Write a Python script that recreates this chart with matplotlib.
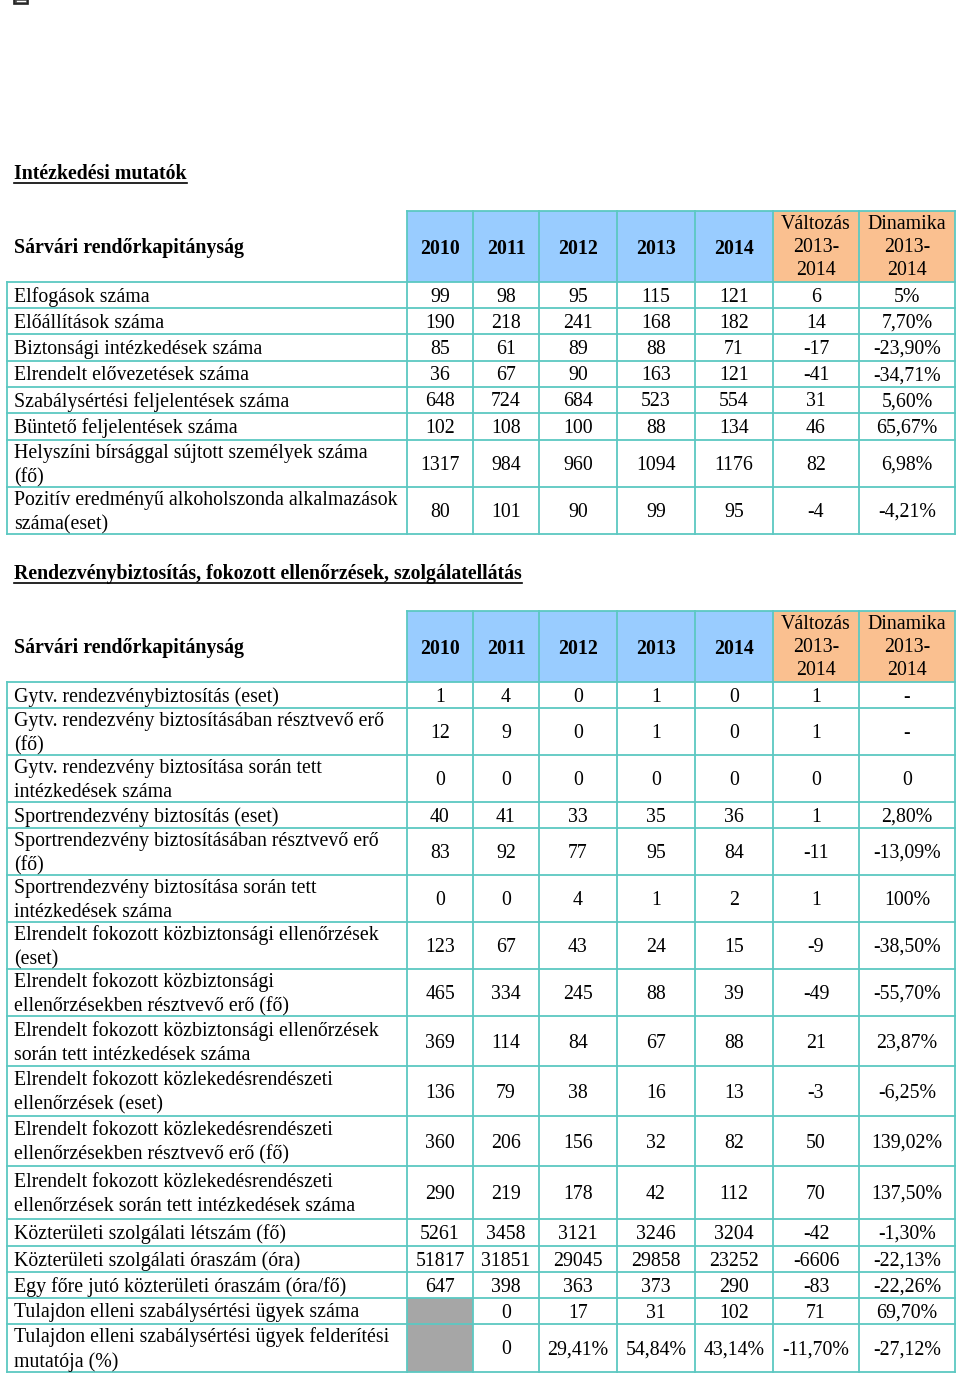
import matplotlib
matplotlib.use("Agg")
import matplotlib.pyplot as plt
from matplotlib.patches import Rectangle

plt.rcParams['font.family'] = ['Liberation Serif', 'DejaVu Serif']

# ---- data ----
years = ["2010", "2011", "2012", "2013", "2014"]
extra_cols = ["Változás\n2013-\n2014", "Dinamika\n2013-\n2014"]
unit_name = "Sárvári rendőrkapitányság"

title1 = "Intézkedési mutatók"
labels1 = [
    "Elfogások száma",
    "Előállítások száma",
    "Biztonsági intézkedések száma",
    "Elrendelt elővezetések száma",
    "Szabálysértési feljelentések száma",
    "Büntető feljelentések száma",
    "Helyszíni bírsággal sújtott személyek száma\n(fő)",
    "Pozitív eredményű alkoholszonda alkalmazások\nszáma(eset)",
]
values1 = [
    ["99", "98", "95", "115", "121", "6", "5%"],
    ["190", "218", "241", "168", "182", "14", "7,70%"],
    ["85", "61", "89", "88", "71", "-17", "-23,90%"],
    ["36", "67", "90", "163", "121", "-41", "-34,71%"],
    ["648", "724", "684", "523", "554", "31", "5,60%"],
    ["102", "108", "100", "88", "134", "46", "65,67%"],
    ["1317", "984", "960", "1094", "1176", "82", "6,98%"],
    ["80", "101", "90", "99", "95", "-4", "-4,21%"],
]

title2 = "Rendezvénybiztosítás, fokozott ellenőrzések, szolgálatellátás"
labels2 = [
    "Gytv. rendezvénybiztosítás (eset)",
    "Gytv. rendezvény biztosításában résztvevő erő\n(fő)",
    "Gytv. rendezvény biztosítása során tett\nintézkedések száma",
    "Sportrendezvény biztosítás (eset)",
    "Sportrendezvény biztosításában résztvevő erő\n(fő)",
    "Sportrendezvény biztosítása során tett\nintézkedések száma",
    "Elrendelt fokozott közbiztonsági ellenőrzések\n(eset)",
    "Elrendelt fokozott közbiztonsági\nellenőrzésekben résztvevő erő (fő)",
    "Elrendelt fokozott közbiztonsági ellenőrzések\nsorán tett intézkedések száma",
    "Elrendelt fokozott közlekedésrendészeti\nellenőrzések (eset)",
    "Elrendelt fokozott közlekedésrendészeti\nellenőrzésekben résztvevő erő (fő)",
    "Elrendelt fokozott közlekedésrendészeti\nellenőrzések során tett intézkedések száma",
    "Közterületi szolgálati létszám (fő)",
    "Közterületi szolgálati óraszám (óra)",
    "Egy főre jutó közterületi óraszám (óra/fő)",
    "Tulajdon elleni szabálysértési ügyek száma",
    "Tulajdon elleni szabálysértési ügyek felderítési\nmutatója (%)",
]
values2 = [
    ["1", "4", "0", "1", "0", "1", "-"],
    ["12", "9", "0", "1", "0", "1", "-"],
    ["0", "0", "0", "0", "0", "0", "0"],
    ["40", "41", "33", "35", "36", "1", "2,80%"],
    ["83", "92", "77", "95", "84", "-11", "-13,09%"],
    ["0", "0", "4", "1", "2", "1", "100%"],
    ["123", "67", "43", "24", "15", "-9", "-38,50%"],
    ["465", "334", "245", "88", "39", "-49", "-55,70%"],
    ["369", "114", "84", "67", "88", "21", "23,87%"],
    ["136", "79", "38", "16", "13", "-3", "-6,25%"],
    ["360", "206", "156", "32", "82", "50", "139,02%"],
    ["290", "219", "178", "42", "112", "70", "137,50%"],
    ["5261", "3458", "3121", "3246", "3204", "-42", "-1,30%"],
    ["51817", "31851", "29045", "29858", "23252", "-6606", "-22,13%"],
    ["647", "398", "363", "373", "290", "-83", "-22,26%"],
    [None, "0", "17", "31", "102", "71", "69,70%"],
    [None, "0", "29,41%", "54,84%", "43,14%", "-11,70%", "-27,12%"],
]

# ---- layout ----
W, H = 960, 1378
col_edges = [7, 407, 473, 539, 617, 695, 773, 859, 955]
rows1 = [282, 308, 334, 361, 387, 413, 440, 487, 534]
rows2 = [682, 708, 755, 802, 828, 875, 922, 969, 1016, 1066, 1116, 1166,
         1219, 1246, 1272, 1298, 1324, 1372]
BLUE = "#99CCFF"
ORANGE = "#FAC090"
GRAY = "#A6A6A6"
LINE = "#5CC8C2"
FS = 14.3

fig = plt.figure(figsize=(W / 100, H / 100), dpi=100)
ax = fig.add_axes([0, 0, 1, 1])
ax.set_xlim(0, W)
ax.set_ylim(H, 0)
ax.axis("off")

# small icon at top left
ax.add_patch(Rectangle((14, -3), 14, 7, facecolor="#444444", edgecolor="#222222", lw=1.2))
ax.plot([17, 25], [1, 1], color="white", lw=1)


def underlined_title(x, y, s):
    t = ax.text(x, y, s, fontsize=FS, fontweight="bold", ha="left", va="center")
    fig.canvas.draw()
    bb = t.get_window_extent().transformed(ax.transData.inverted())
    x0, x1 = sorted([bb.x0, bb.x1])
    ax.plot([x0, x1], [y + 8.5, y + 8.5], color="black", lw=1.2)


def draw_table(top, row_edges, labels, values):
    # header backgrounds
    for j in range(7):
        color = BLUE if j < 5 else ORANGE
        ax.add_patch(Rectangle((col_edges[j + 1], top),
                               col_edges[j + 2] - col_edges[j + 1],
                               row_edges[0] - top, facecolor=color, edgecolor="none"))
    hy = (top + row_edges[0]) / 2
    ax.text(14, hy + 2, unit_name, fontsize=FS, fontweight="bold", ha="left", va="center")
    for j, yr in enumerate(years):
        cx = (col_edges[j + 1] + col_edges[j + 2]) / 2
        ax.text(cx, hy + 2, yr, fontsize=FS, fontweight="bold", ha="center", va="center")
    for k, s in enumerate(extra_cols):
        cx = (col_edges[6 + k] + col_edges[7 + k]) / 2
        ax.text(cx, hy + 1, s, fontsize=FS, ha="center", va="center", linespacing=1.32)

    # body
    for i, (lab, vals) in enumerate(zip(labels, values)):
        y0, y1 = row_edges[i], row_edges[i + 1]
        cy = (y0 + y1) / 2
        ax.text(14, cy + 2, lab, fontsize=FS, ha="left", va="center", linespacing=1.36)
        for j, v in enumerate(vals):
            if v is None:
                ax.add_patch(Rectangle((col_edges[j + 1], y0),
                                       col_edges[j + 2] - col_edges[j + 1], y1 - y0,
                                       facecolor=GRAY, edgecolor="none"))
                continue
            cx = (col_edges[j + 1] + col_edges[j + 2]) / 2
            ax.text(cx, cy + 2, v, fontsize=FS, ha="center", va="center")

    # grid lines
    lw = 1.3
    for y in row_edges:
        ax.plot([col_edges[0], col_edges[-1]], [y, y], color=LINE, lw=lw)
    ax.plot([col_edges[1], col_edges[-1]], [top, top], color=LINE, lw=lw)
    ax.plot([col_edges[0], col_edges[0]], [row_edges[0], row_edges[-1]], color=LINE, lw=lw)
    for x in col_edges[1:]:
        ax.plot([x, x], [top, row_edges[-1]], color=LINE, lw=lw)


underlined_title(14, 174, title1)
draw_table(211, rows1, labels1, values1)
underlined_title(14, 574, title2)
draw_table(611, rows2, labels2, values2)

fig.savefig("out.png", dpi=100)
